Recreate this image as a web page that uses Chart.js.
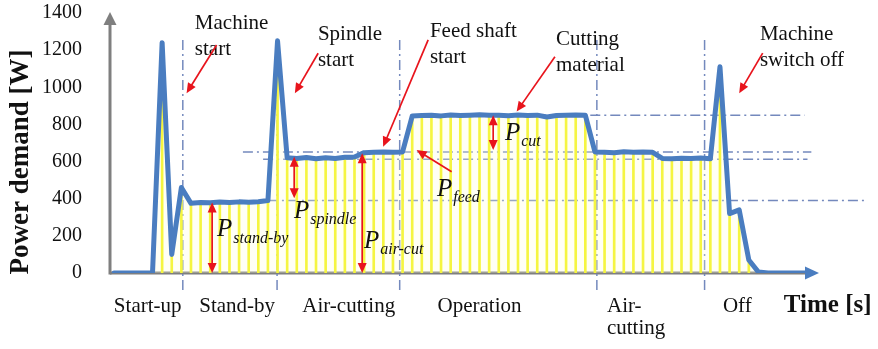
<!DOCTYPE html>
<html>
<head>
<meta charset="utf-8">
<script src="https://cdn.jsdelivr.net/npm/chart.js@4.4.1/dist/chart.umd.min.js"></script>
<style>
  body { margin: 0; background: #fff; }
  canvas { display: block; }
</style>
</head>
<body>
<canvas id="chart" width="878" height="349"></canvas>
<script>
// sample index (one sample per hatch line) and power demand [W]
const times = Array.from({ length: 73 }, (_, i) => i);
const power = [
  0, 0, 0, 0, 0, 1240, 100, 460, 375, 380,
  378, 382, 380, 383, 381, 384, 390, 1250, 620, 616,
  622, 615, 621, 617, 623, 625, 648, 650, 652, 650,
  652, 845, 848, 850, 846, 851, 848, 850, 852, 849,
  850, 847, 851, 848, 850, 840, 848, 850, 851, 850,
  652, 650, 648, 653, 650, 651, 650, 617, 615, 618,
  616, 619, 615, 1110, 320, 340, 70, 5, 0, 0,
  0, 0, 0
];

// dash-dot reference levels [W] and their extent in samples
const refLevels = [850, 652, 613, 390];
const refFrom = [30.8, 13.4, 15.5, 16.0];
const refTo = [71.8, 72.5, 72.1, 78.2];

// phase boundaries (samples) and phase names
const phaseBounds = [7.15, 16.95, 29.7, 50.2, 61.4];
const phaseLabels = [
  { text: ['Start-up'], x: 3.5, align: 'center' },
  { text: ['Stand-by'], x: 12.8, align: 'center' },
  { text: ['Air-cutting'], x: 24.4, align: 'center' },
  { text: ['Operation'], x: 38, align: 'center' },
  { text: ['Air-', 'cutting'], x: 51.25, align: 'left' },
  { text: ['Off'], x: 64.8, align: 'center' }
];

// callouts: text position and pointer arrow (sample, W)
const callouts = [
  { lines: ['Machine', 'start'], x: 8.4, y: 1346, from: [10.66, 1228], to: [7.54, 968] },
  { lines: ['Spindle', 'start'], x: 21.2, y: 1282, from: [21.22, 1183], to: [18.8, 968] },
  { lines: ['Feed shaft', 'start'], x: 32.84, y: 1298, from: [32.66, 1255], to: [27.98, 680] },
  { lines: ['Cutting', 'material'], x: 45.95, y: 1255, from: [45.84, 1165], to: [41.86, 869] },
  { lines: ['Machine', 'switch off'], x: 67.15, y: 1282, from: [67.44, 1184], to: [65.0, 968] }
];

// power components: double arrows and P labels
const components = [
  { sub: 'stand-by', x: 10.2, top: 380, bottom: 0, lx: 10.7, ly: 232 },
  { sub: 'spindle', x: 18.73, top: 626, bottom: 402, lx: 18.7, ly: 334 },
  { sub: 'air-cut', x: 25.8, top: 645, bottom: 0, lx: 25.98, ly: 172 },
  { sub: 'cut', x: 39.42, top: 850, bottom: 662, lx: 40.64, ly: 754 }
];
const feedLabel = { sub: 'feed', lx: 33.57, ly: 452, from: [35.1, 545], to: [31.46, 662] };

const SERIF = '"Liberation Serif", "Times New Roman", serif';
const RED = '#e8141c';
const REF = '#7489bd';
const AXIS = '#7f7f7f';

function arrowHead(ctx, x1, y1, x2, y2, len, half, color) {
  const a = Math.atan2(y2 - y1, x2 - x1);
  ctx.save();
  ctx.fillStyle = color;
  ctx.beginPath();
  ctx.moveTo(x2, y2);
  ctx.lineTo(x2 - len * Math.cos(a) + half * Math.sin(a), y2 - len * Math.sin(a) - half * Math.cos(a));
  ctx.lineTo(x2 - len * Math.cos(a) - half * Math.sin(a), y2 - len * Math.sin(a) + half * Math.cos(a));
  ctx.closePath();
  ctx.fill();
  ctx.restore();
}

function arrow(ctx, x1, y1, x2, y2, color, both) {
  const a = Math.atan2(y2 - y1, x2 - x1);
  ctx.save();
  ctx.strokeStyle = color;
  ctx.lineWidth = 1.7;
  ctx.beginPath();
  ctx.moveTo(both ? x1 + 7 * Math.cos(a) : x1, both ? y1 + 7 * Math.sin(a) : y1);
  ctx.lineTo(x2 - 7 * Math.cos(a), y2 - 7 * Math.sin(a));
  ctx.stroke();
  ctx.restore();
  arrowHead(ctx, x1, y1, x2, y2, 10, 4.5, color);
  if (both) arrowHead(ctx, x2, y2, x1, y1, 10, 4.5, color);
}

function pLabel(ctx, px, py, sub) {
  ctx.save();
  ctx.fillStyle = '#111';
  ctx.textBaseline = 'middle';
  ctx.textAlign = 'left';
  ctx.font = 'italic 25px ' + SERIF;
  ctx.fillText('P', px, py);
  const w = ctx.measureText('P').width;
  ctx.font = 'italic 16px ' + SERIF;
  ctx.fillText(sub, px + w + 1, py + 9);
  ctx.restore();
}

const decorations = {
  id: 'decorations',
  beforeDatasetsDraw(chart) {
    const { ctx, chartArea } = chart;
    const xs = chart.scales.x, ys = chart.scales.y;
    ctx.save();
    // x axis baseline
    ctx.strokeStyle = AXIS;
    ctx.lineWidth = 3;
    ctx.beginPath();
    ctx.moveTo(chartArea.left, chartArea.bottom);
    ctx.lineTo(chartArea.right - 10, chartArea.bottom);
    ctx.stroke();

    ctx.strokeStyle = REF;
    ctx.lineWidth = 1.5;
    ctx.setLineDash([10, 4, 2, 4]);
    refLevels.forEach((v, i) => {
      const y = ys.getPixelForValue(v);
      ctx.beginPath();
      ctx.moveTo(xs.getPixelForValue(refFrom[i]), y);
      ctx.lineTo(xs.getPixelForValue(refTo[i]), y);
      ctx.stroke();
    });
    phaseBounds.forEach(b => {
      const x = xs.getPixelForValue(b);
      ctx.beginPath();
      ctx.moveTo(x, ys.getPixelForValue(1255));
      ctx.lineTo(x, ys.getPixelForValue(-100));
      ctx.stroke();
    });
    ctx.restore();
  },
  afterDraw(chart) {
    const { ctx, chartArea } = chart;
    const xs = chart.scales.x, ys = chart.scales.y;
    const X = v => xs.getPixelForValue(v);
    const Y = v => ys.getPixelForValue(v);

    // y axis with arrow
    ctx.save();
    ctx.strokeStyle = AXIS;
    ctx.lineWidth = 3;
    ctx.beginPath();
    ctx.moveTo(chartArea.left, chartArea.bottom + 1.5);
    ctx.lineTo(chartArea.left, chartArea.top + 10);
    ctx.stroke();
    ctx.restore();
    arrowHead(ctx, chartArea.left, chartArea.bottom, chartArea.left, chartArea.top - 1, 13, 6.5, AXIS);
    const last = times.length - 1;
    arrowHead(ctx, X(times[last]), Y(0), chartArea.right - 1, Y(0), 14, 6.5, '#4a7dc0');

    // callouts
    ctx.save();
    ctx.fillStyle = '#111';
    ctx.textBaseline = 'middle';
    ctx.textAlign = 'left';
    ctx.font = '21px ' + SERIF;
    callouts.forEach(c => {
      c.lines.forEach((t, k) => ctx.fillText(t, X(c.x), Y(c.y) + k * 26));
      arrow(ctx, X(c.from[0]), Y(c.from[1]), X(c.to[0]), Y(c.to[1]), RED, false);
    });
    ctx.restore();

    components.forEach(c => {
      arrow(ctx, X(c.x), Y(c.top), X(c.x), Y(c.bottom), RED, true);
      pLabel(ctx, X(c.lx), Y(c.ly), c.sub);
    });
    arrow(ctx, X(feedLabel.from[0]), Y(feedLabel.from[1]), X(feedLabel.to[0]), Y(feedLabel.to[1]), RED, false);
    pLabel(ctx, X(feedLabel.lx), Y(feedLabel.ly), feedLabel.sub);

    // phase names under the axis
    ctx.save();
    ctx.fillStyle = '#111';
    ctx.textBaseline = 'middle';
    ctx.font = '21px ' + SERIF;
    phaseLabels.forEach(p => {
      ctx.textAlign = p.align;
      p.text.forEach((t, k) => ctx.fillText(t, X(p.x), chartArea.bottom + 33 + k * 22));
    });
    ctx.font = 'bold 25px ' + SERIF;
    ctx.textAlign = 'center';
    ctx.fillText('Time [s]', X(74.2), chartArea.bottom + 33);

    // y axis title
    ctx.translate(21, 162);
    ctx.rotate(-Math.PI / 2);
    ctx.font = 'bold 27px ' + SERIF;
    ctx.fillText('Power demand [W]', 0, 0);
    ctx.restore();
  }
};

const points = power.map((v, i) => ({ x: times[i], y: v }));

new Chart(document.getElementById('chart'), {
  type: 'bar',
  data: {
    datasets: [
      {
        type: 'line',
        data: points,
        borderColor: '#4a7dc0',
        borderWidth: 5,
        borderJoinStyle: 'round',
        borderCapStyle: 'round',
        pointRadius: 0,
        tension: 0,
        fill: 'origin',
        backgroundColor: 'rgba(255, 255, 215, 0.25)',
        order: 0
      },
      {
        type: 'bar',
        data: points,
        backgroundColor: '#f2f20e',
        barThickness: 2,
        order: 1
      }
    ]
  },
  options: {
    responsive: false,
    animation: false,
    layout: { padding: { top: 13, right: 58, bottom: 76, left: 0 } },
    plugins: { legend: { display: false }, tooltip: { enabled: false } },
    scales: {
      x: {
        type: 'linear',
        display: false,
        min: -0.42,
        max: 73.4,
        offset: false
      },
      y: {
        min: 0,
        max: 1400,
        grid: { display: false },
        border: { display: false },
        ticks: {
          stepSize: 200,
          padding: 20,
          color: '#111',
          font: { family: SERIF, size: 20 },
          callback: v => String(v)
        },
        afterFit(scale) {
          scale.width = 110;
          scale.paddingTop = 0;
          scale.paddingBottom = 0;
        }
      }
    }
  },
  plugins: [decorations]
});
</script>
</body>
</html>
